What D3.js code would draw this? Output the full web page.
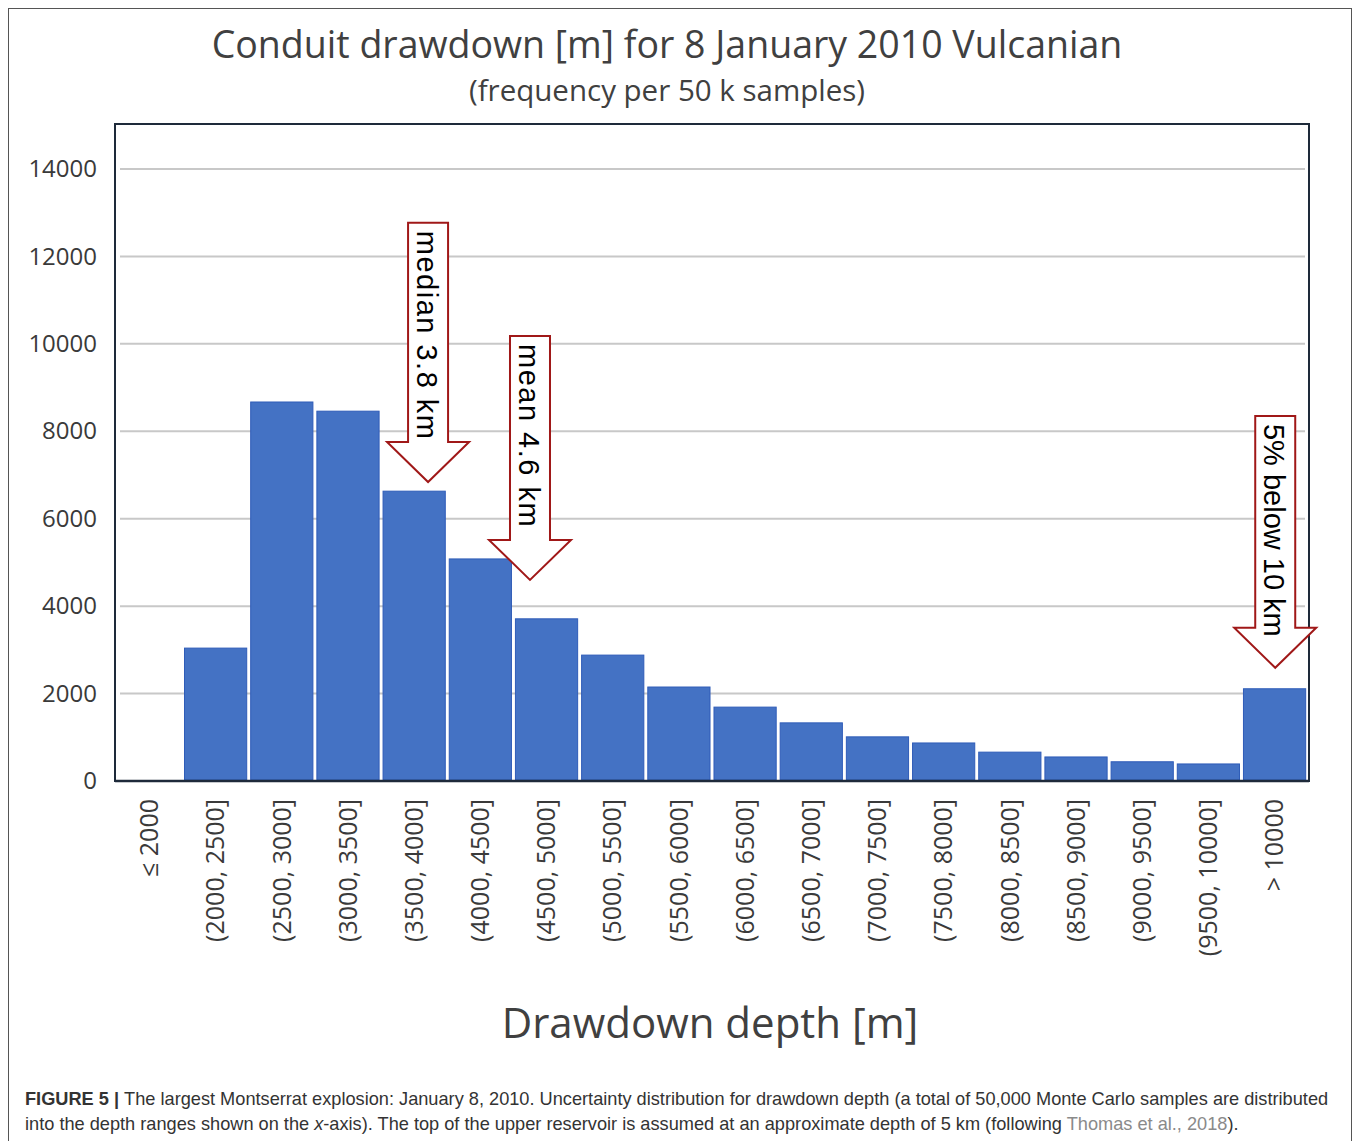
<!DOCTYPE html>
<html>
<head>
<meta charset="utf-8">
<script src="https://cdn.jsdelivr.net/npm/d3@7"></script>
<style>
  body { margin: 0; background: #fff; }
</style>
</head>
<body>
<svg id="chart" width="1358" height="1141"></svg>
<script>
// カテゴリ（深さの区間）
var categories = ["≤ 2000", "(2000, 2500]", "(2500, 3000]", "(3000, 3500]", "(3500, 4000]",
  "(4000, 4500]", "(4500, 5000]", "(5000, 5500]", "(5500, 6000]", "(6000, 6500]",
  "(6500, 7000]", "(7000, 7500]", "(7500, 8000]", "(8000, 8500]", "(8500, 9000]",
  "(9000, 9500]", "(9500, 10000]", "> 10000"];
// 頻度（5万サンプル中）
var counts = [5, 3040, 8670, 8460, 6630, 5080, 3710, 2880, 2150, 1690,
  1330, 1010, 870, 660, 550, 440, 390, 2110];
var yTicks = [0, 2000, 4000, 6000, 8000, 10000, 12000, 14000];
// 矢印の注記: 位置[m], 矢印の先端と上端の値
var arrowLabels = ["median 3.8 km", "mean 4.6 km", "5% below 10 km"];
var arrowDepth = [3850, 4620, 10250];
var arrowTip = [6840, 4600, 2590];
var arrowTop = [12770, 10180, 8350];

var svg = d3.select("#chart");
var sansFont = "'Open Sans', sans-serif";
var arialFont = "'Liberation Sans', Arial, sans-serif";

// 外枠
svg.append("rect")
  .attr("x", 8.5).attr("y", 8.5)
  .attr("width", 1343).attr("height", 1150)
  .attr("fill", "none").attr("stroke", "#555").attr("stroke-width", 1);

var plotLeft = 115, plotRight = 1309, plotTop = 124, plotBottom = 781;

var xScale = d3.scaleBand()
  .domain(categories)
  .range([plotLeft + 2, plotRight - 2])
  .paddingInner(0.06)
  .paddingOuter(0.02);
var yScale = d3.scaleLinear()
  .domain([0, 14000])
  .range([plotBottom, 169]);

// 深さ→x座標（各区間500m）
function depthX(d) {
  var step = xScale.step();
  var start = xScale(categories[0]) - xScale.paddingOuter() * step - xScale.paddingInner() * step / 2;
  var idx = (d - 2000) / 500 + 1;
  return start + idx * step + step * xScale.paddingInner() / 2;
}

// グリッド線
svg.append("g")
  .selectAll("line")
  .data(yTicks.filter(function(d){ return d > 0; }))
  .enter()
  .append("line")
  .attr("x1", plotLeft + 5).attr("x2", plotRight - 4)
  .attr("y1", function(d){ return yScale(d); })
  .attr("y2", function(d){ return yScale(d); })
  .attr("stroke", "#c8c8c8").attr("stroke-width", 2);

// 棒
svg.append("g")
  .selectAll("rect")
  .data(counts)
  .enter()
  .append("rect")
  .attr("x", function(d, i){ return xScale(categories[i]); })
  .attr("y", function(d){ return yScale(d); })
  .attr("width", xScale.bandwidth())
  .attr("height", function(d){ return plotBottom - 1 - yScale(d); })
  .attr("fill", "#4472c4")
  .attr("stroke", "#2f5cb8")
  .attr("stroke-width", 1);

// プロット枠
svg.append("rect")
  .attr("x", plotLeft).attr("y", plotTop)
  .attr("width", plotRight - plotLeft).attr("height", plotBottom - plotTop)
  .attr("fill", "none").attr("stroke", "#1e2a3a").attr("stroke-width", 2);
svg.append("line")
  .attr("x1", plotLeft).attr("x2", plotRight)
  .attr("y1", plotBottom).attr("y2", plotBottom)
  .attr("stroke", "#1e2a3a").attr("stroke-width", 2.5);

// y軸ラベル
var yAxis = svg.append("g")
  .attr("transform", "translate(" + (plotLeft - 18) + ",0)")
  .call(d3.axisLeft(yScale).tickValues(yTicks).tickSize(0).tickPadding(0).tickFormat(d3.format("d")));
yAxis.select(".domain").remove();
yAxis.selectAll("text")
  .style("font-family", sansFont)
  .style("font-size", "24px")
  .attr("fill", "#3a3a3a");

// x軸ラベル（縦書き）
var xAxis = svg.append("g")
  .attr("transform", "translate(0," + plotBottom + ")")
  .call(d3.axisBottom(xScale).tickSize(0).tickPadding(0));
xAxis.select(".domain").remove();
xAxis.selectAll("text")
  .style("font-family", sansFont)
  .style("font-size", "25px")
  .attr("fill", "#3a3a3a")
  .attr("text-anchor", "end")
  .attr("transform", "rotate(-90)")
  .attr("x", -18)
  .attr("y", 0)
  .attr("dy", "0.35em");

// 矢印の注記
var shaftW = 20, headW = 41, headH = 40;
arrowLabels.forEach(function(label, i) {
  var cx = depthX(arrowDepth[i]);
  var tipY = yScale(arrowTip[i]);
  var topY = yScale(arrowTop[i]);
  var neckY = tipY - headH;
  var path = d3.path();
  path.moveTo(cx - shaftW, topY);
  path.lineTo(cx + shaftW, topY);
  path.lineTo(cx + shaftW, neckY);
  path.lineTo(cx + headW, neckY);
  path.lineTo(cx, tipY);
  path.lineTo(cx - headW, neckY);
  path.lineTo(cx - shaftW, neckY);
  path.closePath();
  svg.append("path")
    .attr("d", path.toString())
    .attr("fill", "#fff")
    .attr("stroke", "#a01818")
    .attr("stroke-width", 2);
  svg.append("text")
    .attr("transform", "translate(" + (cx - 1) + "," + (topY + 8) + ") rotate(90)")
    .attr("dy", "0.35em")
    .style("font-family", arialFont)
    .style("font-size", "29px")
    .style("letter-spacing", i < 2 ? "1.5px" : "0px")
    .attr("fill", "#000")
    .text(label);
});

// タイトル
svg.append("text")
  .attr("x", 667).attr("y", 58)
  .attr("text-anchor", "middle")
  .style("font-family", sansFont)
  .style("font-size", "37.5px")
  .attr("fill", "#404040")
  .text("Conduit drawdown [m] for 8 January 2010 Vulcanian");
svg.append("text")
  .attr("x", 667).attr("y", 101)
  .attr("text-anchor", "middle")
  .style("font-family", sansFont)
  .style("font-size", "29.5px")
  .attr("fill", "#404040")
  .text("(frequency per 50 k samples)");

// x軸タイトル
svg.append("text")
  .attr("x", 710).attr("y", 1038)
  .attr("text-anchor", "middle")
  .style("font-family", sansFont)
  .style("font-size", "42px")
  .attr("fill", "#404040")
  .text("Drawdown depth [m]");

// キャプション
var cap = svg.append("g")
  .style("font-family", arialFont)
  .style("font-size", "18.2px")
  .attr("fill", "#333");
var line1 = cap.append("text").attr("x", 25).attr("y", 1105);
line1.append("tspan").attr("font-weight", "bold").text("FIGURE 5 | ");
line1.append("tspan").text("The largest Montserrat explosion: January 8, 2010. Uncertainty distribution for drawdown depth (a total of 50,000 Monte Carlo samples are distributed");
var line2 = cap.append("text").attr("x", 25).attr("y", 1130);
line2.append("tspan").text("into the depth ranges shown on the ");
line2.append("tspan").attr("font-style", "italic").text("x");
line2.append("tspan").text("-axis). The top of the upper reservoir is assumed at an approximate depth of 5 km (following ");
line2.append("tspan").attr("fill", "#8a8a8a").text("Thomas et al., 2018");
line2.append("tspan").text(").");
</script>
</body>
</html>
